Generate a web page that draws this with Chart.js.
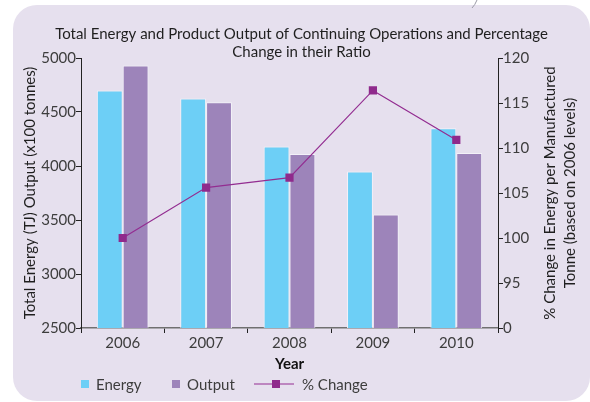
<!DOCTYPE html>
<html>
<head>
<meta charset="utf-8">
<script src="https://cdn.jsdelivr.net/npm/chart.js@4/dist/chart.umd.min.js"></script>
<style>
  html, body { margin: 0; padding: 0; background: #ffffff; }
  #chart { display: block; }
</style>
</head>
<body>
<canvas id="chart" width="590" height="402"></canvas>
<script>
// values
const years = ["2006", "2007", "2008", "2009", "2010"];
const energyValues = [4700, 4625, 4180, 3950, 4350];
const outputValues = [4930, 4590, 4110, 3550, 4120];
const pctChangeValues = [100, 105.6, 106.7, 116.4, 110.9];
// right axis is broken: its lowest tick reads "0" but sits where 90 would be
const rightAxisBreak = 90;

const FONT = "Lato, 'Noto Sans', sans-serif";
const TEXT_COLOR = "#3d3d3d";

const panelPlugin = {
  id: "panel",
  beforeDraw(chart) {
    const ctx = chart.ctx;
    ctx.save();
    ctx.fillStyle = "#ffffff";
    ctx.fillRect(0, 0, chart.width, chart.height);
    ctx.fillStyle = "#e6e0ee";
    ctx.beginPath();
    ctx.roundRect(13, 5, 577, 396, 24);
    ctx.fill();
    // small fold mark on the top edge
    ctx.strokeStyle = "#9a9aa6";
    ctx.lineWidth = 1;
    ctx.beginPath();
    ctx.moveTo(477, 0);
    ctx.quadraticCurveTo(475, 5, 472, 8);
    ctx.stroke();
    ctx.restore();
  },
};

const extrasPlugin = {
  id: "extras",
  afterDraw(chart) {
    const ctx = chart.ctx;
    const area = chart.chartArea;
    ctx.save();

    // right axis title, reads bottom to top like the left one
    ctx.translate(560, (area.top + area.bottom) / 2);
    ctx.rotate(-Math.PI / 2);
    ctx.fillStyle = "#1f1f1f";
    ctx.font = `15px ${FONT}`;
    ctx.textAlign = "center";
    ctx.textBaseline = "middle";
    ctx.fillText("% Change in Energy per Manufactured", 0, -10);
    ctx.fillText("Tonne (based on 2006 levels)", 0, 10);
    ctx.setTransform(1, 0, 0, 1, 0, 0);

    // legend
    const sets = chart.data.datasets;
    const y = 384;
    ctx.font = `15px ${FONT}`;
    ctx.textAlign = "left";
    ctx.fillStyle = sets[0].backgroundColor;
    ctx.fillRect(81, y - 4, 8, 8);
    ctx.fillStyle = TEXT_COLOR;
    ctx.fillText(sets[0].label, 96, y + 1);

    ctx.fillStyle = sets[1].backgroundColor;
    ctx.fillRect(172, y - 4, 8, 8);
    ctx.fillStyle = TEXT_COLOR;
    ctx.fillText(sets[1].label, 187, y + 1);

    ctx.strokeStyle = sets[2].borderColor;
    ctx.lineWidth = 1.2;
    ctx.beginPath();
    ctx.moveTo(254, y);
    ctx.lineTo(294, y);
    ctx.stroke();
    ctx.fillStyle = sets[2].pointBackgroundColor;
    ctx.fillRect(272, y - 4, 8, 8);
    ctx.fillStyle = TEXT_COLOR;
    ctx.fillText(sets[2].label, 302, y + 1);

    ctx.restore();
  },
};

new Chart(document.getElementById("chart"), {
  data: {
    labels: years,
    datasets: [
      {
        type: "bar",
        label: "Energy",
        data: energyValues,
        backgroundColor: "#6dcff6",
        borderColor: "#f3f1f8",
        borderWidth: 1,
        yAxisID: "y",
        order: 2,
        categoryPercentage: 0.62,
        barPercentage: 1,
      },
      {
        type: "bar",
        label: "Output",
        data: outputValues,
        backgroundColor: "#9d84ba",
        borderColor: "#f3f1f8",
        borderWidth: 1,
        yAxisID: "y",
        order: 2,
        categoryPercentage: 0.62,
        barPercentage: 1,
      },
      {
        type: "line",
        label: "% Change",
        data: pctChangeValues,
        borderColor: "#932d91",
        borderWidth: 1.2,
        pointStyle: "rect",
        pointRadius: 5.8,
        pointBackgroundColor: "#8f2a8c",
        pointBorderWidth: 0,
        yAxisID: "y1",
        order: 0,
      },
    ],
  },
  options: {
    responsive: false,
    animation: false,
    layout: { padding: { top: 0, left: 13, right: 0, bottom: 28 } },
    plugins: {
      legend: { display: false },
      tooltip: { enabled: false },
      title: {
        display: true,
        text: [
          "Total Energy and Product Output of Continuing Operations and Percentage",
          "Change in their Ratio",
        ],
        color: "#1f1f1f",
        font: { family: FONT, size: 15, weight: "normal", lineHeight: 1.2 },
        padding: { top: 25, bottom: -3 },
      },
    },
    scales: {
      x: {
        grid: { display: true, drawOnChartArea: false, offset: true, tickLength: 5, color: "#222" },
        border: { color: "#707070", width: 1.5 },
        ticks: { color: TEXT_COLOR, font: { family: FONT, size: 15 }, padding: 1 },
        title: {
          display: true,
          text: "Year",
          color: "#111",
          font: { family: FONT, size: 15, weight: "bold" },
          padding: { top: 0, bottom: 1 },
        },
        afterFit(scale) { scale.height = 46; },
      },
      y: {
        position: "left",
        min: 2500,
        max: 5000,
        ticks: {
          stepSize: 500,
          color: TEXT_COLOR,
          font: { family: FONT, size: 15 },
          padding: 0,
          callback: (value) => String(value),
        },
        grid: { drawOnChartArea: false, tickLength: 5, color: "#222" },
        border: { color: "#222", width: 1 },
        title: {
          display: true,
          text: "Total Energy (TJ) Output (x100 tonnes)",
          color: "#1f1f1f",
          font: { family: FONT, size: 15 },
          padding: { top: 8, bottom: 0 },
        },
        afterFit(scale) { scale.width = 68; },
      },
      y1: {
        position: "right",
        min: rightAxisBreak,
        max: 120,
        ticks: {
          stepSize: 5,
          color: TEXT_COLOR,
          font: { family: FONT, size: 15 },
          padding: 0,
          callback: (value) => (value === rightAxisBreak ? "0" : String(value)),
        },
        grid: { drawOnChartArea: false, tickLength: 5, color: "#222" },
        border: { color: "#222", width: 1 },
        afterFit(scale) { scale.width = 92; },
      },
    },
  },
  plugins: [panelPlugin, extrasPlugin],
});
</script>
</body>
</html>
